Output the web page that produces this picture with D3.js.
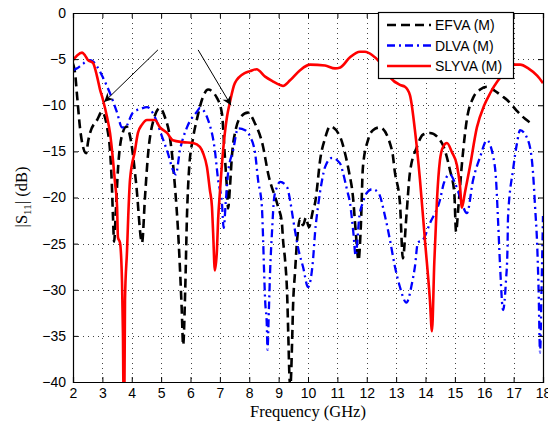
<!DOCTYPE html>
<html><head><meta charset="utf-8">
<script src="https://cdn.jsdelivr.net/npm/d3@7"></script>
<style>body{margin:0;background:#fff}svg{display:block}</style>
</head><body>
<svg id="c" width="548" height="425"></svg>
<script>
// ---- data (frequency GHz, |S11| dB) ----
const xTicks = d3.range(2, 19, 1);
const yTicks = d3.range(-40, 1, 5);
const seriesNames = ["EFVA (M)", "DLVA (M)", "SLYVA (M)"];

const efva = [[2.00,-5.5],[2.07,-6.5],[2.14,-9.0],[2.24,-12.5],[2.34,-14.5],[2.45,-15.2],[2.51,-14.0],[2.58,-13.0],[2.82,-11.6],[2.99,-10.7],[3.16,-12.4],[3.26,-14.9],[3.32,-18.4],[3.36,-22.0],[3.40,-24.8],[3.45,-22.0],[3.53,-17.0],[3.65,-13.5],[3.82,-12.3],[3.98,-14.0],[4.15,-18.5],[4.35,-24.9],[4.45,-20.0],[4.55,-15.5],[4.75,-11.5],[4.96,-10.3],[5.13,-11.3],[5.30,-13.5],[5.45,-18.0],[5.60,-25.0],[5.70,-32.0],[5.75,-36.0],[5.82,-30.0],[5.88,-22.0],[5.95,-17.0],[6.09,-13.5],[6.22,-11.5],[6.39,-9.4],[6.60,-8.3],[6.90,-9.2],[7.07,-10.9],[7.17,-15.6],[7.24,-19.0],[7.28,-21.2],[7.34,-19.0],[7.41,-15.5],[7.55,-12.5],[7.70,-11.3],[7.95,-10.8],[8.20,-12.0],[8.45,-14.2],[8.65,-17.5],[8.98,-21.0],[9.11,-22.7],[9.15,-24.6],[9.22,-26.8],[9.29,-30.5],[9.33,-35.0],[9.37,-39.5],[9.40,-40.5],[9.46,-35.5],[9.49,-31.9],[9.56,-28.0],[9.63,-24.6],[9.73,-22.3],[9.83,-23.0],[9.93,-22.2],[10.03,-23.2],[10.17,-21.4],[10.24,-20.6],[10.30,-19.2],[10.41,-16.0],[10.58,-13.6],[10.75,-12.3],[11.09,-13.4],[11.26,-15.2],[11.40,-17.3],[11.53,-19.9],[11.62,-23.5],[11.72,-26.8],[11.80,-23.0],[11.87,-16.7],[12.04,-13.8],[12.21,-12.7],[12.45,-12.4],[12.86,-14.9],[12.96,-17.3],[13.13,-20.6],[13.23,-26.6],[13.35,-22.0],[13.47,-17.3],[13.71,-14.5],[13.91,-13.2],[14.15,-13.0],[14.56,-14.1],[14.83,-17.0],[14.98,-19.5],[15.04,-23.7],[15.12,-21.0],[15.25,-16.0],[15.41,-11.5],[15.62,-9.2],[15.86,-8.3],[16.09,-8.0],[16.30,-8.3],[16.60,-9.0],[16.77,-9.4],[17.11,-10.6],[17.40,-11.5],[17.66,-12.1]];

const dlva = [[2.00,-6.2],[2.14,-6.0],[2.30,-5.6],[2.58,-5.1],[2.70,-5.3],[2.82,-5.8],[3.02,-7.0],[3.26,-8.7],[3.50,-10.8],[3.67,-12.4],[3.77,-12.4],[4.04,-10.8],[4.30,-10.4],[4.52,-10.2],[4.79,-11.3],[5.03,-13.4],[5.23,-15.2],[5.40,-17.0],[5.50,-17.5],[5.64,-14.9],[5.88,-12.4],[6.22,-10.7],[6.32,-10.3],[6.60,-11.6],[6.83,-14.9],[6.94,-18.1],[7.07,-20.6],[7.13,-23.3],[7.20,-20.5],[7.28,-17.3],[7.45,-14.9],[7.62,-12.5],[7.86,-12.7],[8.03,-13.4],[8.20,-15.2],[8.30,-18.1],[8.43,-21.0],[8.47,-24.3],[8.50,-27.5],[8.54,-31.1],[8.60,-34.0],[8.62,-36.5],[8.67,-32.0],[8.71,-28.0],[8.77,-24.0],[8.85,-20.0],[8.94,-18.9],[9.05,-18.3],[9.29,-18.9],[9.39,-20.3],[9.50,-22.5],[9.70,-26.0],[9.83,-27.5],[10.00,-29.7],[10.17,-26.8],[10.24,-23.8],[10.34,-21.0],[10.48,-18.1],[10.58,-16.7],[10.82,-15.7],[11.09,-16.3],[11.19,-17.3],[11.33,-19.2],[11.43,-20.6],[11.55,-24.0],[11.62,-26.3],[11.75,-22.0],[11.87,-20.5],[12.00,-19.5],[12.18,-19.1],[12.40,-19.5],[12.62,-22.0],[12.79,-24.6],[12.96,-27.5],[13.13,-29.7],[13.35,-31.4],[13.54,-29.3],[13.64,-27.5],[13.74,-24.9],[13.91,-24.6],[14.15,-22.8],[14.49,-20.3],[14.63,-18.4],[14.83,-17.5],[15.00,-18.4],[15.17,-19.9],[15.41,-21.7],[15.62,-18.1],[15.86,-15.6],[16.09,-13.8],[16.30,-15.5],[16.40,-18.0],[16.47,-22.5],[16.54,-27.5],[16.64,-32.2],[16.74,-29.0],[16.79,-25.7],[16.81,-22.1],[16.98,-17.0],[17.11,-14.2],[17.22,-12.7],[17.49,-13.8],[17.66,-17.3],[17.73,-21.0],[17.80,-25.0],[17.85,-30.0],[17.90,-36.8],[17.95,-30.0],[18.00,-22.0]];

const slyva = [[2.00,-5.1],[2.14,-4.6],[2.31,-4.3],[2.41,-4.6],[2.51,-5.1],[2.68,-5.4],[2.82,-6.9],[2.92,-8.3],[3.02,-9.4],[3.16,-11.3],[3.26,-13.0],[3.36,-15.9],[3.43,-18.4],[3.50,-21.0],[3.53,-24.3],[3.60,-24.9],[3.67,-29.3],[3.70,-34.7],[3.72,-41],[3.75,-41],[3.77,-31.1],[3.84,-25.7],[3.88,-22.1],[3.94,-18.1],[4.11,-14.9],[4.21,-13.0],[4.35,-12.1],[4.52,-11.6],[4.79,-11.6],[4.96,-12.4],[5.20,-13.0],[5.40,-13.8],[5.74,-14.0],[6.09,-14.1],[6.32,-14.5],[6.43,-15.2],[6.56,-16.7],[6.66,-19.2],[6.73,-21.0],[6.77,-23.8],[6.83,-27.9],[6.90,-25.7],[6.94,-22.4],[7.00,-19.5],[7.11,-14.9],[7.24,-11.3],[7.34,-9.7],[7.51,-7.6],[7.86,-6.5],[8.03,-6.3],[8.25,-6.1],[8.54,-6.9],[8.80,-7.4],[9.05,-7.8],[9.15,-7.9],[9.39,-7.3],[9.73,-6.2],[10.07,-5.6],[10.58,-5.7],[10.92,-6.0],[11.10,-5.9],[11.43,-4.8],[11.77,-4.2],[11.94,-4.2],[12.20,-4.6],[12.38,-5.1],[12.60,-6.0],[12.80,-7.0],[13.13,-7.8],[13.30,-8.0],[13.47,-8.9],[13.64,-12.7],[13.81,-18.0],[13.98,-24.6],[14.15,-31.1],[14.22,-34.5],[14.30,-27.0],[14.39,-20.3],[14.49,-16.0],[14.60,-14.5],[14.73,-14.1],[14.90,-15.1],[15.07,-16.5],[15.17,-18.6],[15.24,-21.1],[15.34,-19.5],[15.51,-16.7],[15.75,-12.4],[16.00,-10.0],[16.20,-8.7],[16.45,-7.4],[16.64,-6.7],[16.98,-5.6],[17.22,-5.6],[17.50,-6.0],[17.80,-6.8],[18.00,-7.6]];

// annotation arrows: [tail, tip] in data coordinates
const arrows = [[[4.89,-4.0],[3.06,-9.65]], [[6.26,-4.0],[7.38,-10.0]]];

// ---- layout ----
const svg = d3.select("#c");
const L = 73, R = 543, T = 13, B = 382;
const x = d3.scaleLinear().domain([2, 18]).range([L, R]);
const y = d3.scaleLinear().domain([-40, 0]).range([B, T]);

// grid
const grid = svg.append("g").attr("stroke", "#444").attr("stroke-width", 1).attr("stroke-dasharray", "1,4");
grid.selectAll(".gx").data(xTicks.slice(1, -1)).join("line")
  .attr("x1", d => Math.round(x(d)) + 0.5).attr("x2", d => Math.round(x(d)) + 0.5).attr("y1", T).attr("y2", B);
grid.selectAll(".gy").data(yTicks.slice(1, -1)).join("line")
  .attr("y1", d => Math.round(y(d)) + 0.5).attr("y2", d => Math.round(y(d)) + 0.5).attr("x1", L).attr("x2", R);

// clip
svg.append("clipPath").attr("id", "clip").append("rect").attr("x", L).attr("y", T).attr("width", R - L).attr("height", B - T);

const line = d3.line().x(d => x(d[0])).y(d => y(d[1])).curve(d3.curveMonotoneX);
const plot = svg.append("g").attr("clip-path", "url(#clip)");
plot.append("path").datum(efva).attr("d", line).attr("fill", "none").attr("stroke", "#000").attr("stroke-width", 2.6).attr("stroke-dasharray", "9,5");
plot.append("path").datum(dlva).attr("d", line).attr("fill", "none").attr("stroke", "#0000ff").attr("stroke-width", 2.3).attr("stroke-dasharray", "8,4,2,4");
plot.append("path").datum(slyva).attr("d", line).attr("fill", "none").attr("stroke", "#ff0000").attr("stroke-width", 2.6);

// axes
const fmt = d => d < 0 ? "\u2212" + Math.abs(d) : String(d);
const ax = svg.append("g").attr("transform", `translate(0,${B})`).call(d3.axisBottom(x).tickValues(xTicks).tickSize(-5).tickPadding(6).tickFormat(fmt));
const ay = svg.append("g").attr("transform", `translate(${L},0)`).call(d3.axisLeft(y).tickValues(yTicks).tickSize(-5).tickPadding(7).tickFormat(fmt));
svg.append("g").attr("transform", `translate(0,${T})`).call(d3.axisTop(x).tickValues(xTicks).tickSize(-5).tickFormat(""));
svg.append("g").attr("transform", `translate(${R},0)`).call(d3.axisRight(y).tickValues(yTicks).tickSize(-5).tickFormat(""));
svg.selectAll(".domain").attr("stroke", "#000").attr("stroke-width", 1.2);
svg.selectAll(".tick line").attr("stroke", "#000");
[ax, ay].forEach(a => a.selectAll("text").attr("font-family", "Liberation Sans, Arial, sans-serif").attr("font-size", 14).attr("fill", "#000"));

// axis labels
svg.append("text").attr("x", (L + R) / 2).attr("y", 417).attr("text-anchor", "middle")
  .attr("font-family", "Liberation Serif, Times New Roman, serif").attr("font-size", 16.5).text("Frequency (GHz)");
const yl = svg.append("text").attr("transform", "translate(27,197) rotate(-90)").attr("text-anchor", "middle")
  .attr("font-family", "Liberation Serif, Times New Roman, serif").attr("font-size", 16.5);
yl.append("tspan").text("|S");
yl.append("tspan").attr("font-size", 11).attr("dy", 4).text("11");
yl.append("tspan").attr("dy", -4).text("| (dB)");

// arrows
const defs = svg.append("defs");
defs.append("marker").attr("id", "ah").attr("viewBox", "0 0 10 10").attr("refX", 10).attr("refY", 5)
  .attr("markerWidth", 13).attr("markerHeight", 9).attr("markerUnits", "userSpaceOnUse").attr("orient", "auto")
  .append("path").attr("d", "M0,0 L10,5 L0,10 L3,5 Z").attr("fill", "#000");
svg.selectAll(".arr").data(arrows).join("line")
  .attr("x1", d => x(d[0][0])).attr("y1", d => y(d[0][1])).attr("x2", d => x(d[1][0])).attr("y2", d => y(d[1][1]))
  .attr("stroke", "#000").attr("stroke-width", 1).attr("marker-end", "url(#ah)");

// legend
const lg = svg.append("g");
lg.append("rect").attr("x", 378.5).attr("y", 12.5).attr("width", 135).attr("height", 66).attr("fill", "#fff").attr("stroke", "#000").attr("stroke-width", 1.2);
const styles = [{c: "#000", d: "9,5", w: 2.6}, {c: "#0000ff", d: "8,4,2,4", w: 2.3}, {c: "#ff0000", d: null, w: 2.6}];
seriesNames.forEach((n, i) => {
  const yy = 25 + i * 20.5;
  lg.append("line").attr("x1", 387).attr("x2", 431).attr("y1", yy).attr("y2", yy)
    .attr("stroke", styles[i].c).attr("stroke-width", styles[i].w).attr("stroke-dasharray", styles[i].d);
  lg.append("text").attr("x", 435).attr("y", yy + 5).attr("font-family", "Liberation Sans, Arial, sans-serif").attr("font-size", 14).text(n);
});
</script>
</body></html>
